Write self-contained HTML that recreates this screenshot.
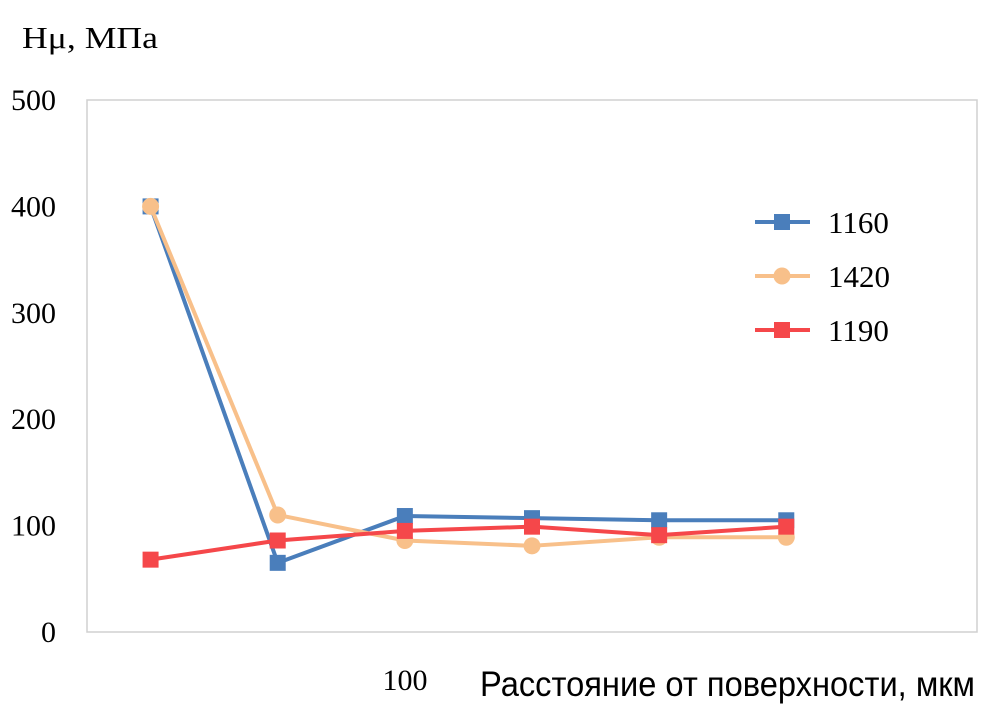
<!DOCTYPE html>
<html><head><meta charset="utf-8"><style>
body{margin:0;background:#fff;}
svg{display:block;}
</style></head><body>
<svg id="chart" width="987" height="707" viewBox="0 0 987 707">
<text x="22" y="48" font-family="Liberation Serif, serif" font-size="31" textLength="136" lengthAdjust="spacingAndGlyphs" fill="#000">Hμ, МПа</text>
<rect x="87" y="100" width="890" height="532" fill="none" stroke="#d0d0d0" stroke-width="1.5"/>
<g id="yticks"></g>
<g id="series"></g>
<text x="405" y="690" text-anchor="middle" font-family="Liberation Serif, serif" font-size="30">100</text>
<text x="480" y="696" font-family="Liberation Sans, sans-serif" font-size="35" textLength="495" lengthAdjust="spacingAndGlyphs">Расстояние от поверхности, мкм</text>
<g id="legend"></g>
</svg>
<script>
const categories = [1,2,3,4,5,6,7];
const yTicks = [0,100,200,300,400,500];
const s1160 = [400,65,109,107,105,105];
const s1420 = [400,110,86,81,89,89];
const s1190 = [68,86,95,99,91,99];
const seriesNames = ['1160','1420','1190'];
const NS='http://www.w3.org/2000/svg';
const L=87,R=977,T=100,B=632;
const x=i=>L+(i+0.5)*(R-L)/categories.length;
const y=v=>B-(v/500)*(B-T);
function mk(tag,attrs,parent){const e=document.createElementNS(NS,tag);for(const k in attrs)e.setAttribute(k,attrs[k]);parent.appendChild(e);return e;}
const yt=document.getElementById('yticks');
yTicks.forEach(v=>{const t=mk('text',{x:56,y:y(v)+10,'text-anchor':'end','font-family':'Liberation Serif, serif','font-size':30},yt);


t.textContent=v;});
const sg=document.getElementById('series');
const defs=[{d:s1160,c:'#4a7ebb',m:'sq'},{d:s1420,c:'#f8c08a',m:'ci'},{d:s1190,c:'#f5474a',m:'sq'}];
function marker(m,cx,cy,c,p){
 if(m==='sq'){const r=mk('rect',{x:cx-8,y:cy-8,width:16,height:16,fill:c},p);return r;}
 return mk('circle',{cx:cx,cy:cy,r:8.5,fill:c},p);}
defs.forEach((s,si)=>{const g=mk('g',{},sg);
 
 
 const pl=mk('polyline',{points:s.d.map((v,i)=>x(i)+','+y(v)).join(' '),fill:'none',stroke:s.c,'stroke-width':4,'stroke-linejoin':'round'},g);
 
 
 s.d.forEach((v,i)=>{const mm=marker(s.m,x(i),y(v),s.c,g);
  
  });
});
const lg=document.getElementById('legend');
defs.forEach((s,si)=>{const g=mk('g',{},lg);const ly=222+si*54;
 
 
 mk('line',{x1:755,y1:ly,x2:810,y2:ly,stroke:s.c,'stroke-width':4},g);
 marker(s.m,782,ly,s.c,g);
 const t=mk('text',{x:828,y:ly+11,'font-family':'Liberation Serif, serif','font-size':31},g);
 t.textContent=seriesNames[si];});
</script>
</body></html>
